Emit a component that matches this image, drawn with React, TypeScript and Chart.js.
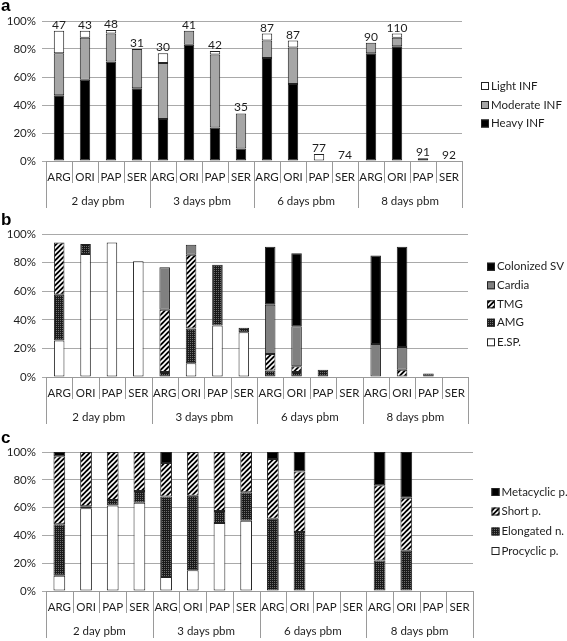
import React, { useEffect, useRef } from 'react';
import { Chart, registerables } from 'chart.js';
Chart.register(...registerables);

// ---------- data ----------
const CATEGORIES = ['ARG', 'ORI', 'PAP', 'SER'];
const GROUPS = ['2 day pbm', '3 days pbm', '6 days pbm', '8 days pbm'];
const Y_TICKS = [0, 20, 40, 60, 80, 100];

// panel a
const HEAVY_INF = [47, 58, 71, 52, 30, 83, 24, 9, 73.5, 55, 0, 0, 77, 82, 2, 0];
const MODERATE_INF = [30, 30, 20, 28, 40, 10, 52, 25, 12.5, 26, 0, 0, 7.5, 6, 0, 0];
const LIGHT_INF = [16, 5, 2.5, 0, 7, 0, 2.5, 0, 5, 5, 5, 0, 0, 3, 0, 0];
const N_LABELS = ['47', '43', '48', '31', '30', '41', '42', '35', '87', '87', '77', '74', '90', '110', '91', '92'];

// panel b
const ESP = [25.5, 86, 94, 81, 0, 9.6, 36, 31.3, 0, 0, 0, 0, 0, 0, 0, 0];
const AMG = [32, 7, 0, 0, 3.5, 24.4, 42.5, 3.2, 4.5, 3.5, 5, 0, 0, 0, 2.5, 0];
const TMG = [36.5, 0, 0, 0, 43.5, 51.5, 0, 0, 11.5, 4, 0, 0, 0, 5, 0, 0];
const CARDIA = [0, 0, 0, 0, 29.8, 7, 0, 0, 34.5, 28, 0, 0, 23, 16, 0, 0];
const COLONIZED_SV = [0, 0, 0, 0, 0, 0, 0, 0, 40.5, 51, 0, 0, 62, 70, 0, 0];

// panel c
const PROCYCLIC = [11, 59.5, 61.5, 63.5, 10, 15, 49, 50.5, 0, 0, 0, 0, 0, 0, 0, 0];
const ELONGATED = [37, 1.5, 4, 8.5, 58, 53.5, 8.5, 20.5, 52, 42.5, 0, 0, 22, 29, 0, 0];
const SHORT_P = [49, 39, 34.5, 28, 24, 31.5, 42.5, 29, 43, 43.5, 0, 0, 54, 38, 0, 0];
const METACYCLIC = [3, 0, 0, 0, 8, 0, 0, 0, 5, 14, 0, 0, 24, 33, 0, 0];

const LABELS = GROUPS.flatMap((g) => CATEGORIES.map((c) => c));

const FONT = 'Lato';
const TEXT = '#1e1e1e';
const GRID = '#a9a9a9';
const SEP = '#9a9a9a';

function makeHatch(): CanvasPattern {
  const c = document.createElement('canvas');
  c.width = 5; c.height = 5;
  const g = c.getContext('2d')!;
  g.fillStyle = '#000';
  g.fillRect(0, 0, 5, 5);
  g.strokeStyle = '#fff';
  g.lineWidth = 1.6;
  g.beginPath();
  g.moveTo(-1, 6); g.lineTo(6, -1);
  g.moveTo(-1, 1); g.lineTo(1, -1);
  g.moveTo(4, 6); g.lineTo(6, 4);
  g.stroke();
  return g.createPattern(c, 'repeat')!;
}

function makeDots(): CanvasPattern {
  const c = document.createElement('canvas');
  c.width = 2; c.height = 2;
  const g = c.getContext('2d')!;
  g.fillStyle = '#1a1a1a';
  g.fillRect(0, 0, 2, 2);
  g.fillStyle = '#6e6e6e';
  g.fillRect(0, 0, 1, 1);
  return g.createPattern(c, 'repeat')!;
}

type Series = { label: string; data: number[]; fill: string | CanvasPattern };
type PanelOpts = {
  letter: string;
  letterY: number;
  series: Series[];
  padding: { top: number; bottom: number; right: number };
  barPct: number;
  legendX: number;
  legendYs: number[];
  topLabels?: string[];
};

function buildChart(canvas: HTMLCanvasElement, o: PanelOpts): Chart {
  const overlay = {
    id: 'overlay',
    afterDraw(chart: any) {
      const ctx: CanvasRenderingContext2D = chart.ctx;
      const xs = chart.scales.x;
      const ys = chart.scales.y;
      const ca = chart.chartArea;
      const n = LABELS.length;
      const w = (ca.right - ca.left) / n;
      ctx.save();
      // axis line
      ctx.strokeStyle = SEP;
      ctx.lineWidth = 1;
      ctx.beginPath();
      ctx.moveTo(ca.left, Math.round(ca.bottom) + 0.5);
      ctx.lineTo(ca.right, Math.round(ca.bottom) + 0.5);
      ctx.stroke();
      // separators
      for (let k = 0; k <= n; k++) {
        const x = Math.round(xs.getPixelForValue(Math.min(k, n - 1)) + (k === n ? w / 2 : -w / 2)) + 0.5;
        const len = k % 4 === 0 ? 47 : 22;
        ctx.beginPath();
        ctx.moveTo(x, ca.bottom);
        ctx.lineTo(x, ca.bottom + len);
        ctx.stroke();
      }
      // category labels
      ctx.fillStyle = TEXT;
      ctx.font = `11.5px ${FONT}`;
      ctx.textAlign = 'center';
      ctx.textBaseline = 'middle';
      LABELS.forEach((lab, i) => {
        ctx.fillText(lab, xs.getPixelForValue(i), ca.bottom + 16);
      });
      GROUPS.forEach((g, gi) => {
        const cx = (xs.getPixelForValue(gi * 4) + xs.getPixelForValue(gi * 4 + 3)) / 2;
        ctx.fillText(g, cx, ca.bottom + 40);
      });
      // top labels
      if (o.topLabels) {
        ctx.font = `12px ${FONT}`;
        ctx.textBaseline = 'alphabetic';
        o.topLabels.forEach((t, i) => {
          const sum = o.series.reduce((s, se) => s + se.data[i], 0);
          ctx.fillText(t, xs.getPixelForValue(i), ys.getPixelForValue(sum) - 2);
        });
      }
      // legend (reverse order)
      const items = [...o.series].reverse();
      ctx.font = `11.5px ${FONT}`;
      ctx.textAlign = 'left';
      ctx.textBaseline = 'middle';
      items.forEach((se, j) => {
        const cy = o.legendYs[j];
        ctx.fillStyle = se.fill as any;
        ctx.fillRect(o.legendX, cy - 4, 8, 8);
        ctx.strokeStyle = '#222';
        ctx.strokeRect(o.legendX + 0.5, cy - 3.5, 7, 7);
        ctx.fillStyle = TEXT;
        ctx.fillText(se.label, o.legendX + 10, cy);
      });
      // panel letter
      ctx.font = `bold 17px "Liberation Sans", Arial, sans-serif`;
      ctx.textBaseline = 'alphabetic';
      ctx.fillStyle = '#000';
      ctx.fillText(o.letter, 1, o.letterY);
      ctx.restore();
    },
  };

  return new Chart(canvas, {
    type: 'bar',
    data: {
      labels: LABELS,
      datasets: o.series.map((se) => ({
        label: se.label,
        data: se.data.map((v) => (v === 0 ? null : v)),
        backgroundColor: se.fill as any,
        borderColor: '#222',
        borderWidth: 1,
        borderSkipped: false,
        barPercentage: o.barPct,
        categoryPercentage: 1,
      })),
    },
    options: {
      responsive: false,
      animation: false,
      devicePixelRatio: 1,
      layout: { padding: { left: 0, top: o.padding.top, bottom: o.padding.bottom, right: o.padding.right } },
      plugins: { legend: { display: false }, tooltip: { enabled: false } },
      scales: {
        x: { stacked: true, display: false, offset: true },
        y: {
          stacked: true,
          min: 0,
          max: 100,
          afterFit: (s: any) => { s.width = 46; },
          afterBuildTicks: (s: any) => { s.ticks = Y_TICKS.map((v) => ({ value: v })); },
          ticks: {
            callback: (v: any) => v + '%',
            font: { family: FONT, size: 11.5 },
            color: TEXT,
            padding: 6,
          },
          grid: { color: GRID, lineWidth: 1, drawTicks: true, tickLength: 4, tickColor: GRID },
          border: { display: false },
        },
      },
    },
    plugins: [overlay],
  } as any);
}

export default function App() {
  const ra = useRef<HTMLCanvasElement>(null);
  const rb = useRef<HTMLCanvasElement>(null);
  const rc = useRef<HTMLCanvasElement>(null);

  useEffect(() => {
    const hatch = makeHatch();
    const dots = makeDots();
    const charts: Chart[] = [];
    charts.push(buildChart(ra.current!, {
      letter: 'a', letterY: 11,
      series: [
        { label: 'Heavy INF', data: HEAVY_INF, fill: '#000000' },
        { label: 'Moderate INF', data: MODERATE_INF, fill: '#a6a6a6' },
        { label: 'Light INF', data: LIGHT_INF, fill: '#ffffff' },
      ],
      padding: { top: 21, bottom: 51, right: 105 },
      barPct: 0.4,
      legendX: 481, legendYs: [86, 105, 123.5],
      topLabels: N_LABELS,
    }));
    charts.push(buildChart(rb.current!, {
      letter: 'b', letterY: 17,
      series: [
        { label: 'E.SP.', data: ESP, fill: '#ffffff' },
        { label: 'AMG', data: AMG, fill: dots },
        { label: 'TMG', data: TMG, fill: hatch },
        { label: 'Cardia', data: CARDIA, fill: '#808080' },
        { label: 'Colonized SV', data: COLONIZED_SV, fill: '#000000' },
      ],
      padding: { top: 26, bottom: 48, right: 99 },
      barPct: 0.4,
      legendX: 487, legendYs: [58.7, 77.3, 96.3, 114.7, 134.3],
    }));
    charts.push(buildChart(rc.current!, {
      letter: 'c', letterY: 18,
      series: [
        { label: 'Procyclic p.', data: PROCYCLIC, fill: '#ffffff' },
        { label: 'Elongated n.', data: ELONGATED, fill: dots },
        { label: 'Short p.', data: SHORT_P, fill: hatch },
        { label: 'Metacyclic p.', data: METACYCLIC, fill: '#000000' },
      ],
      padding: { top: 27, bottom: 50, right: 94 },
      barPct: 0.44,
      legendX: 491.5, legendYs: [67, 86.5, 106.5, 126],
    }));
    return () => charts.forEach((c) => c.destroy());
  }, []);

  const cs = (top: number): React.CSSProperties => ({ position: 'absolute', left: 0, top, display: 'block' });
  return (
    <div style={{ position: 'absolute', left: 0, top: 0, width: 567, height: 641, background: '#fff', overflow: 'hidden' }}>
      <canvas ref={ra} width={567} height={212} style={cs(0)} />
      <canvas ref={rb} width={567} height={217} style={cs(208)} />
      <canvas ref={rc} width={567} height={216} style={cs(425)} />
    </div>
  );
}
